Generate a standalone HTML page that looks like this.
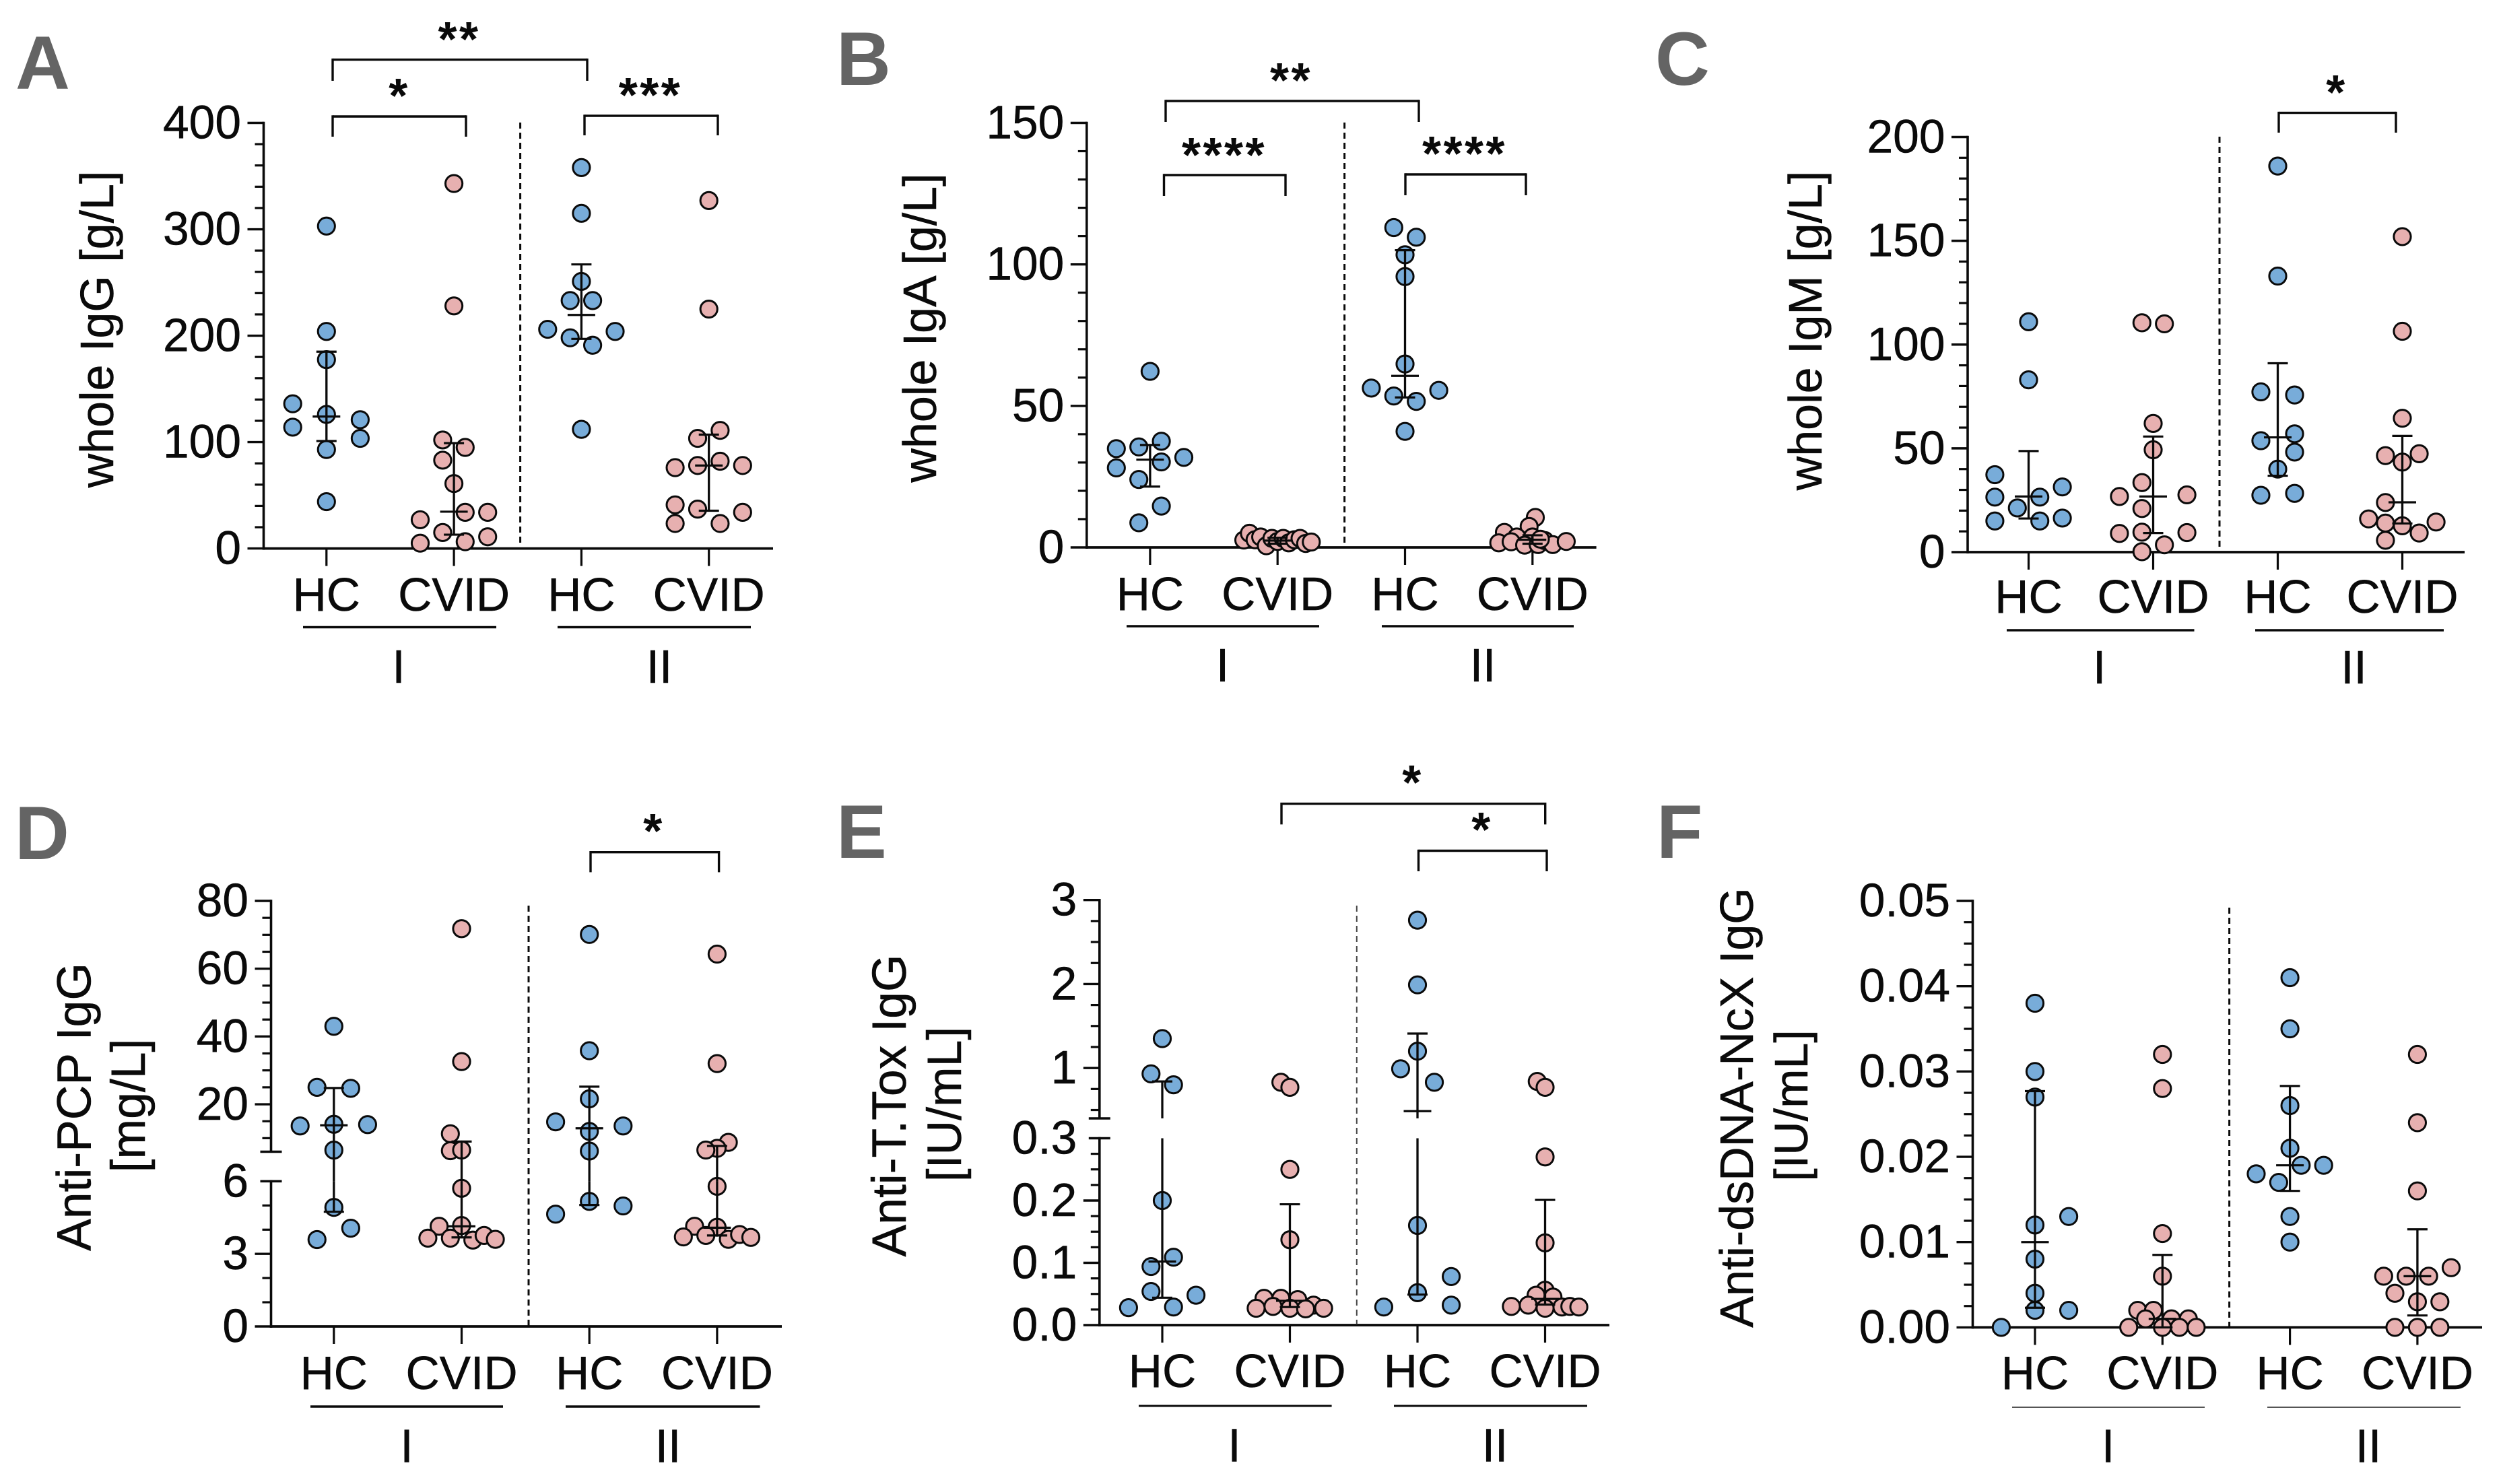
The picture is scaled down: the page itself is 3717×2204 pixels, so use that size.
<!DOCTYPE html>
<html lang="en">
<head>
<meta charset="utf-8">
<title>Immunoglobulin panels A-F</title>
<style>
html,body{margin:0;padding:0;background:#fff;}
svg{display:block;font-family:"Liberation Sans",sans-serif;}
</style>
</head>
<body>
<svg id="figure" xmlns="http://www.w3.org/2000/svg" width="3717" height="2204" viewBox="0 0 3717 2204"></svg>
<script>
// ---------- shared categories ----------
const categories = ['HC', 'CVID', 'HC', 'CVID'];
const periods = ['I', 'II'];

// ---------- Panel A: whole IgG ----------
const panelAValues = [
  [303, 204, 177.5, 136, 126, 121, 114, 103.5, 93, 44],
  [343, 228, 102, 95, 83, 61, 34, 34, 27, 15, 11, 6.4, 5],
  [358, 315, 251, 233, 233, 206, 204, 198, 191, 112],
  [327, 225, 111, 103.5, 82, 76, 78, 78, 41, 37, 34, 23.5, 23.5]
];
const panelASwarmSlots = [
  [0, 0, 0, -3, 0, 3, -3, 3, 0, 0],
  [0, 0, -1, 1, -1, 0, 1, 3, -3, -1, 3, 1, -3],
  [0, 0, 0, -1, 1, -3, 3, -1, 1, 0],
  [0, 0, 1, -1, 1, -3, -1, 3, -3, -1, 3, -3, 1]
];
const panelAMedians = [124, 34.6, 219.5, 78];
const panelAQ1 = [101, 13, 197, 35.5];
const panelAQ3 = [185, 99, 267, 107];
const panelATickValues = [0, 100, 200, 300, 400];
const panelATickLabels = ['0', '100', '200', '300', '400'];

// ---------- Panel B: whole IgA ----------
const panelBValues = [
  [62.2, 37.5, 35.5, 34.9, 30.2, 31.8, 28.1, 24, 14.6, 8.7],
  [2.6, 5, 2.7, 3.7, 0.6, 3.2, 2.1, 3.2, 1.6, 2.7, 3.2, 1.4, 1.9],
  [113, 109.6, 103.4, 95.7, 64.8, 56.3, 55.5, 53.5, 51.6, 41],
  [10.6, 7.4, 5.3, 3.7, 3.7, 1.6, 2, 0.8, 1, 2.4, 1, 2.1, 2.9]
];
const panelBSwarmSlots = [
  [0, 1, -1, -3, 1, 3, -3, -1, 1, -1],
  [-3, -2.5, -2, -1.5, -1, -0.5, 0, 0.5, 1, 1.5, 2, 2.5, 3],
  [-1, 1, 0, 0, 0, -3, 3, -1, 1, 0],
  [0.25, -0.3, -2.5, -1.4, 0, -3, -1.9, -0.7, 0.5, 1.1, 1.8, 3, 0.7]
];
const panelBMedians = [31, 2.4, 60.6, 2.7];
const panelBQ1 = [21.5, 1.3, 53, 1.3];
const panelBQ3 = [36.2, 3.4, 105, 4.3];
const panelBTickValues = [0, 50, 100, 150];
const panelBTickLabels = ['0', '50', '100', '150'];

// ---------- Panel C: whole IgM ----------
const panelCValues = [
  [111, 83, 37.3, 31.4, 26.5, 26.5, 21.3, 16.4, 15, 15],
  [110.5, 110, 62, 49.3, 33.5, 26.8, 27.6, 21, 9, 9.6, 9.4, 3.5, 0.2],
  [186, 133, 77.2, 75.7, 57, 53.7, 48.2, 40, 27.4, 28.3],
  [152, 106.4, 64.5, 47.4, 46.5, 43.4, 23.9, 16, 12.7, 14, 14.5, 9.2, 5.7]
];
const panelCSwarmSlots = [
  [0, 0, -3, 3, -3, 1, -1, 3, -3, 1],
  [-1, 1, 0, 0, -1, -3, 3, -1, -3, -1, 3, 1, -1],
  [0, 0, -1.5, 1.5, 1.5, -1.5, 1.5, 0, -1.5, 1.5],
  [0, 0, 0, 1.5, -1.5, 0, -1.5, -3, 0, -1.5, 3, 1.5, -1.5]
];
const panelCMedians = [26.8, 26.8, 55.3, 24];
const panelCQ1 = [16.2, 9.2, 36.8, 13.8];
const panelCQ3 = [48.7, 55.7, 91, 56];
const panelCTickValues = [0, 50, 100, 150, 200];
const panelCTickLabels = ['0', '50', '100', '150', '200'];

// ---------- Panel D: anti-PCP IgG ----------
const panelDValues = [
  [43, 25, 24.7, 13.6, 14.1, 14, 6.47, 4.92, 4.06, 3.59],
  [71.8, 32.6, 11.3, 6.3, 6.5, 5.71, 4.14, 4.17, 3.65, 3.65, 3.57, 3.76, 3.6],
  [70.1, 35.8, 21.6, 14.8, 13.6, 12, 6.2, 5.17, 4.98, 4.64],
  [64.3, 32, 8.75, 7, 6.5, 5.79, 4.14, 4.1, 3.7, 3.76, 3.6, 3.8, 3.68]
];
const panelDSwarmSlots = [
  [0, -1.5, 1.5, -3, 0, 3, 0, 0, 1.5, -1.5],
  [0, 0, -1, -1, 0, 0, -2, 0, -3, -1, 1, 2, 3],
  [0, 0, 0, -3, 3, 0, 0, 0, 3, -3],
  [0, 0, 1, 0, -1, 0, -2, 0, -3, -1, 1, 2, 3]
];
const panelDMedians = [13.8, 4.14, 12.9, 4.08];
const panelDQ1 = [4.74, 3.68, 5.02, 3.76];
const panelDQ3 = [24.8, 9, 25.2, 7.7];
const panelDTickValues = [0, 3, 6, 20, 40, 60, 80];
const panelDTickLabels = ['0', '3', '6', '20', '40', '60', '80'];

// ---------- Panel E: anti-T.Tox IgG ----------
const panelEValues = [
  [1.35, 0.93, 0.8, 0.2, 0.109, 0.094, 0.054, 0.048, 0.029, 0.028],
  [0.83, 0.77, 0.25, 0.137, 0.043, 0.043, 0.041, 0.027, 0.03, 0.027, 0.032, 0.026, 0.027],
  [2.76, 1.99, 1.2, 0.99, 0.83, 0.16, 0.078, 0.052, 0.032, 0.029],
  [0.84, 0.77, 0.27, 0.132, 0.056, 0.048, 0.045, 0.03, 0.032, 0.027, 0.029, 0.03, 0.029]
];
const panelESwarmSlots = [
  [0, -1, 1, 0, 1, -1, -1, 3, 1, -3],
  [-0.8, 0, 0, 0, -2.3, -0.8, 0.7, -3, -1.5, 0, 2.1, 1.4, 3],
  [0, 0, 0, -1.5, 1.5, 0, 3, 0, 3, -3],
  [-0.7, 0, 0, 0, 0, -0.8, 0.7, -3, -1.5, 0, 1.5, 2.2, 3]
];
const panelEMedians = [0.102, 0.039, 0.486, 0.042];
const panelEQ1 = [0.044, 0.029, 0.049, 0.033];
const panelEQ3 = [0.84, 0.194, 1.41, 0.201];
const panelETickValues = [0, 0.1, 0.2, 0.3, 1, 2, 3];
const panelETickLabels = ['0.0', '0.1', '0.2', '0.3', '1', '2', '3'];

// ---------- Panel F: anti-dsDNA-NcX IgG ----------
const panelFValues = [
  [0.038, 0.03, 0.027, 0.013, 0.012, 0.008, 0.004, 0.002, 0.002, 0],
  [0.032, 0.028, 0.011, 0.006, 0.002, 0.002, 0.001, 0.001, 0.001, 0, 0, 0, 0],
  [0.041, 0.035, 0.026, 0.021, 0.019, 0.019, 0.018, 0.017, 0.013, 0.01],
  [0.032, 0.024, 0.016, 0.007, 0.006, 0.006, 0.006, 0.004, 0.003, 0.003, 0, 0, 0]
];
const panelFSwarmSlots = [
  [0, 0, 0, 3, 0, 0, 0, 0, 3, -3],
  [0, 0, 0, 0, -2.2, -0.8, -1.5, 0.8, 2.3, -3, 0, 1.5, 3],
  [0, 0, 0, 0, 1, 3, -3, -1, 0, 0],
  [0, 0, 0, 3, -3, -1, 1, -2, 0, 2, -2, 0, 2]
];
const panelFMedians = [0.01, 0.001, 0.019, 0.006];
const panelFQ1 = [0.0023, 0, 0.016, 0.0014];
const panelFQ3 = [0.0277, 0.0085, 0.0283, 0.0115];
const panelFTickValues = [0, 0.01, 0.02, 0.03, 0.04, 0.05];
const panelFTickLabels = ['0.00', '0.01', '0.02', '0.03', '0.04', '0.05'];

// ---------- layout (pixels live here, not in the data arrays) ----------
const BLUE = '#78acd9', PINK = '#e7b0b0', INK = '#0a0a0a';
const FONT = 69.5, SWARM_STEP = 16.7, DOT_R = 12.6;

const panels = [
  { id: 'a', letter: 'A', letterX: 23, letterY: 132, titleFont: 70,
    values: panelAValues, slots: panelASwarmSlots, medians: panelAMedians, q1: panelAQ1, q3: panelAQ3,
    tickValues: panelATickValues, tickLabels: panelATickLabels,
    axisX: 391.5, xEnd: 1148, xFirst: 484.8, xStep: 189.3,
    segments: [{ from: 0, to: 400, bottom: 814.6, top: 182.5, minor: 20 }],
    divider: { x: 772.6, top: 182, bottom: 808, w: 3 },
    catBase: 907, lineY: 931.5, lineW: 3.5, lines: [[450, 737], [828, 1115]], periodX: [592, 979], periodBase: 1014,
    titles: [{ text: 'whole IgG [g/L]', x: 168, y: 489 }],
    brackets: [
      { l: 494, r: 872, y: 88.6, b: 120, stars: '**', sx: 682, sy: 49 },
      { l: 494, r: 692, y: 173, b: 203, stars: '*', sx: 593, sy: 133 },
      { l: 868, r: 1066, y: 172, b: 201, stars: '***', sx: 966, sy: 132 }
    ] },
  { id: 'b', letter: 'B', letterX: 1242, letterY: 126, titleFont: 70,
    values: panelBValues, slots: panelBSwarmSlots, medians: panelBMedians, q1: panelBQ1, q3: panelBQ3,
    tickValues: panelBTickValues, tickLabels: panelBTickLabels,
    axisX: 1613.8, xEnd: 2370.6, xFirst: 1707.9, xStep: 189.3,
    segments: [{ from: 0, to: 150, bottom: 813, top: 182.5, minor: 10 }],
    divider: { x: 1996.6, top: 182, bottom: 806, w: 3 },
    catBase: 906, lineY: 930, lineW: 3.5, lines: [[1673, 1959], [2052, 2337]], periodX: [1815.5, 2202], periodBase: 1012,
    titles: [{ text: 'whole IgA [g/L]', x: 1390, y: 487 }],
    brackets: [
      { l: 1731, r: 2107, y: 150, b: 181, stars: '**', sx: 1917.5, sy: 110 },
      { l: 1728.5, r: 1909, y: 260, b: 291, stars: '****', sx: 1818, sy: 221 },
      { l: 2087, r: 2266, y: 259, b: 290, stars: '****', sx: 2175, sy: 219 }
    ] },
  { id: 'c', letter: 'C', letterX: 2458, letterY: 126, titleFont: 70,
    values: panelCValues, slots: panelCSwarmSlots, medians: panelCMedians, q1: panelCQ1, q3: panelCQ3,
    tickValues: panelCTickValues, tickLabels: panelCTickLabels,
    axisX: 2922, xEnd: 3660, xFirst: 3012.5, xStep: 185,
    segments: [{ from: 0, to: 200, bottom: 820, top: 203.5, minor: 10 }],
    divider: { x: 3296, top: 203, bottom: 812.5, w: 3 },
    catBase: 910, lineY: 936, lineW: 3.5, lines: [[2980, 3258.5], [3349, 3629]], periodX: [3117.6, 3495.5], periodBase: 1015,
    titles: [{ text: 'whole IgM [g/L]', x: 2705, y: 491 }],
    brackets: [
      { l: 3384, r: 3558, y: 167.6, b: 197, stars: '*', sx: 3470, sy: 128 }
    ] },
  { id: 'd', letter: 'D', letterX: 22, letterY: 1276, titleFont: 71.5,
    values: panelDValues, slots: panelDSwarmSlots, medians: panelDMedians, q1: panelDQ1, q3: panelDQ3,
    tickValues: panelDTickValues, tickLabels: panelDTickLabels,
    axisX: 402.5, xEnd: 1161, xFirst: 495.8, xStep: 189.7,
    segments: [
      { from: 0, to: 6, bottom: 1970, top: 1754.4, minor: 1 },
      { from: 6, to: 80, bottom: 1710.5, top: 1338, minor: 5 }
    ],
    divider: { x: 785, top: 1345, bottom: 1969, w: 3 },
    catBase: 2063, lineY: 2089, lineW: 3.5, lines: [[461, 747], [840, 1128.5]], periodX: [604, 992], periodBase: 2171.5,
    titles: [{ text: 'Anti-PCP IgG', x: 134.4, y: 1644 }, { text: '[mg/L]', x: 215, y: 1642 }],
    brackets: [
      { l: 877, r: 1067.6, y: 1265.7, b: 1295.4, stars: '*', sx: 971, sy: 1225 }
    ] },
  { id: 'e', letter: 'E', letterX: 1242, letterY: 1274, titleFont: 71.5,
    values: panelEValues, slots: panelESwarmSlots, medians: panelEMedians, q1: panelEQ1, q3: panelEQ3,
    tickValues: panelETickValues, tickLabels: panelETickLabels,
    axisX: 1632.8, xEnd: 2390, xFirst: 1726, xStep: 189.5,
    segments: [
      { from: 0, to: 0.3, bottom: 1968, top: 1690.5, minor: 0.025 },
      { from: 0.4, to: 3, bottom: 1661, top: 1336.7, minor: 0.25 }
    ],
    divider: { x: 2014.8, top: 1345, bottom: 1967, w: 2, color: '#444' },
    catBase: 2060, lineY: 2088, lineW: 3, lines: [[1691, 1977.6], [2070, 2357]], periodX: [1833, 2220], periodBase: 2170.5,
    titles: [{ text: 'Anti-T.Tox IgG', x: 1345, y: 1642 }, { text: '[IU/mL]', x: 1427, y: 1640 }],
    brackets: [
      { l: 1903, r: 2294.7, y: 1193.7, b: 1224.4, stars: '*', sx: 2098, sy: 1153 },
      { l: 2106.5, r: 2297, y: 1263.5, b: 1294, stars: '*', sx: 2201, sy: 1223 }
    ] },
  { id: 'f', letter: 'F', letterX: 2460, letterY: 1274, titleFont: 70,
    values: panelFValues, slots: panelFSwarmSlots, medians: panelFMedians, q1: panelFQ1, q3: panelFQ3,
    tickValues: panelFTickValues, tickLabels: panelFTickLabels,
    axisX: 2929.5, xEnd: 3686, xFirst: 3022, xStep: 189.3,
    segments: [{ from: 0, to: 0.05, bottom: 1971.4, top: 1338, minor: 0.0025 }],
    divider: { x: 3310.6, top: 1348, bottom: 1970, w: 3 },
    catBase: 2063, lineY: 2090, lineW: 2, lineColor: '#555', lines: [[2988, 3274], [3367, 3654]], periodX: [3130.6, 3517], periodBase: 2171.5,
    titles: [{ text: 'Anti-dsDNA-NcX IgG', x: 2603, y: 1645 }, { text: '[IU/mL]', x: 2684, y: 1642 }],
    brackets: []
  }
];

// ---------- drawing ----------
const SVG_NS = 'http://www.w3.org/2000/svg';
const figure = document.getElementById('figure');

function makeGroup(parent, name) {
  const el = document.createElementNS(SVG_NS, 'g');
  
  
  parent.appendChild(el);
  return el;
}

function drawLine(parent, x1, y1, x2, y2, w, name, color, dash) {
  const el = document.createElementNS(SVG_NS, 'line');
  el.setAttribute('x1', x1);
  el.setAttribute('y1', y1);
  el.setAttribute('x2', x2);
  el.setAttribute('y2', y2);
  el.setAttribute('stroke', color || INK);
  el.setAttribute('stroke-width', w);
  if (dash) el.setAttribute('stroke-dasharray', dash);
  
  
  parent.appendChild(el);
  return el;
}

function drawText(parent, str, x, y, size, anchor, name, opts) {
  const el = document.createElementNS(SVG_NS, 'text');
  el.textContent = str;
  el.setAttribute('x', x);
  el.setAttribute('y', y);
  el.setAttribute('font-size', size);
  el.setAttribute('text-anchor', anchor);
  const fill = (opts && opts.color) || INK;
  el.setAttribute('fill', fill);
  if (opts && opts.bold) el.setAttribute('font-weight', 'bold');
  if (opts && opts.spacing) el.setAttribute('letter-spacing', opts.spacing);
  if (!(opts && opts.bold)) {
    el.setAttribute('stroke', fill);
    el.setAttribute('stroke-width', 0.5);
  }
  if (opts && opts.rotate) el.setAttribute('transform', 'rotate(-90 ' + x + ' ' + y + ')');
  
  
  parent.appendChild(el);
  return el;
}

function makeYScale(segments) {
  return function (v) {
    let seg = segments[segments.length - 1];
    for (const s of segments) { if (v <= s.to) { seg = s; break; } }
    const t = (v - seg.from) / (seg.to - seg.from);
    return seg.bottom + t * (seg.top - seg.bottom);
  };
}

function drawPanel(p) {
  const root = makeGroup(figure, 'panel-' + p.id);
  const xScale = function (i) { return p.xFirst + i * p.xStep; };
  const yScale = makeYScale(p.segments);

  drawText(root, p.letter, p.letterX, p.letterY, 112, 'start', 'panel-letter-' + p.id, { bold: true, color: '#646464' });

  p.titles.forEach(function (t) {
    drawText(root, t.text, t.x, t.y, p.titleFont, 'middle', 'y-axis-title', { rotate: true });
  });

  // y axis, one piece per segment
  const yAxis = makeGroup(root, 'y-axis');
  p.segments.forEach(function (s, si) {
    drawLine(yAxis, p.axisX, s.bottom + (si === 0 ? 2 : 0), p.axisX, s.top - 1.7, 3.6, 'y-axis-line');
    const count = Math.round((s.to - s.from) / s.minor);
    for (let k = 0; k <= count; k++) {
      const v = s.to - k * s.minor;
      const isMajor = p.tickValues.some(function (m) { return Math.abs(m - v) < s.minor / 100; });
      if (v < s.from + s.minor / 100 || isMajor) continue;
      drawLine(yAxis, p.axisX - 13, yScale(v), p.axisX, yScale(v), 3.2, 'y-minor-tick');
    }
    if (si > 0) {
      drawLine(yAxis, p.axisX - 16, s.bottom, p.axisX + 16, s.bottom, 3.5, 'axis-break-mark');
    }
  });
  p.tickValues.forEach(function (v, i) {
    const y = yScale(v);
    const isBreak = p.segments.length > 1 && v === p.segments[0].to;
    if (isBreak) {
      drawLine(yAxis, p.axisX - 16, y, p.axisX + 16, y, 3.5, 'axis-break-mark');
    } else {
      drawLine(yAxis, p.axisX - 24, y, p.axisX, y, 3.4, 'y-major-tick');
    }
    drawText(yAxis, p.tickLabels[i], p.axisX - 33.5, y + 23, FONT, 'end', 'y-tick-label');
  });

  // x axis
  const xAxis = makeGroup(root, 'x-axis');
  const yZero = p.segments[0].bottom;
  drawLine(xAxis, p.axisX, yZero, p.xEnd, yZero, 3.8, 'x-axis-line');
  categories.forEach(function (c, i) {
    drawLine(xAxis, xScale(i), yZero, xScale(i), yZero + 26, 3.2, 'x-tick');
    drawText(xAxis, c, xScale(i), p.catBase, FONT, 'middle', 'x-category-label');
  });
  p.lines.forEach(function (l, i) {
    drawLine(xAxis, l[0], p.lineY, l[1], p.lineY, p.lineW, 'period-underline', p.lineColor);
    drawText(xAxis, periods[i], p.periodX[i], p.periodBase, FONT, 'middle', 'period-label');
  });

  drawLine(root, p.divider.x, p.divider.top, p.divider.x, p.divider.bottom, p.divider.w, 'period-divider', p.divider.color, '9 6');

  // dots, then median and interquartile bars on top
  const series = makeGroup(root, 'data-series');
  p.values.forEach(function (groupValues, gi) {
    const group = makeGroup(series, 'group-' + categories[gi].toLowerCase() + '-' + (gi < 2 ? 'i' : 'ii'));
    groupValues.forEach(function (v, di) {
      const dot = document.createElementNS(SVG_NS, 'circle');
      dot.setAttribute('cx', xScale(gi) + p.slots[gi][di] * SWARM_STEP);
      dot.setAttribute('cy', yScale(v));
      dot.setAttribute('r', DOT_R);
      dot.setAttribute('fill', gi % 2 === 0 ? BLUE : PINK);
      dot.setAttribute('stroke', INK);
      dot.setAttribute('stroke-width', 3);
      
      
      group.appendChild(dot);
    });
    const cx = xScale(gi);
    const lo = p.q1[gi], hi = p.q3[gi];
    p.segments.forEach(function (s) {
      const a = Math.max(lo, s.from), b = Math.min(hi, s.to);
      if (a < b) drawLine(group, cx, yScale(a), cx, yScale(b), 3.3, 'iqr-whisker');
    });
    drawLine(group, cx - 15, yScale(lo), cx + 15, yScale(lo), 3.2, 'q1-cap');
    drawLine(group, cx - 15, yScale(hi), cx + 15, yScale(hi), 3.2, 'q3-cap');
    drawLine(group, cx - 20.5, yScale(p.medians[gi]), cx + 20.5, yScale(p.medians[gi]), 3.2, 'median-line');
  });

  // significance brackets
  p.brackets.forEach(function (b) {
    const g = makeGroup(root, 'significance-bracket');
    drawLine(g, b.l, b.y, b.r, b.y, 3.4, 'bracket-top');
    drawLine(g, b.l, b.y - 1.7, b.l, b.b, 3.4, 'bracket-left');
    drawLine(g, b.r, b.y - 1.7, b.r, b.b, 3.4, 'bracket-right');
    drawText(g, b.stars, b.sx, b.sy + 34, 72, 'middle', 'significance-stars', { bold: true, spacing: 3.5 });
  });
}

panels.forEach(drawPanel);
</script>
</body>
</html>
